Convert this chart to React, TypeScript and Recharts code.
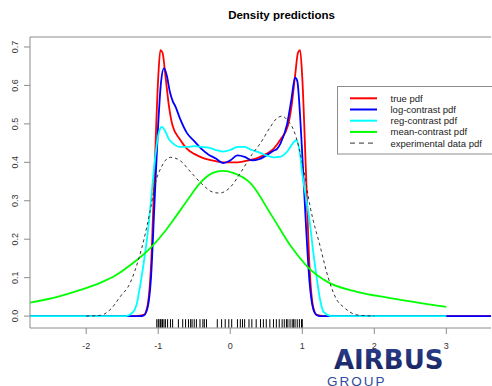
import { ComposedChart, Line, XAxis, YAxis, ReferenceLine } from "recharts";

// x positions / densities
const trueX = [-2.78, -1.3, -1.2, -1.15, -1.1, -1.05, -1.0, -0.97, -0.94, -0.9, -0.85, -0.8, -0.7, -0.6, -0.5, -0.4, -0.3, -0.2, -0.1, 0, 0.1, 0.2, 0.3, 0.4, 0.5, 0.6, 0.7, 0.8, 0.85, 0.9, 0.94, 0.97, 1.0, 1.05, 1.1, 1.15, 1.2, 1.3, 3.62];
const trueY = [0, 0, 0.003, 0.025, 0.13, 0.38, 0.62, 0.692, 0.685, 0.625, 0.545, 0.495, 0.46, 0.435, 0.422, 0.413, 0.407, 0.403, 0.4, 0.4, 0.4, 0.403, 0.407, 0.413, 0.422, 0.435, 0.46, 0.495, 0.545, 0.625, 0.685, 0.692, 0.62, 0.38, 0.13, 0.025, 0.003, 0, 0];

const logX = [-2.78, -1.25, -1.2, -1.15, -1.1, -1.05, -1.0, -0.96, -0.92, -0.88, -0.84, -0.8, -0.76, -0.7, -0.6, -0.5, -0.4, -0.3, -0.2, -0.1, 0, 0.1, 0.2, 0.3, 0.4, 0.5, 0.6, 0.65, 0.7, 0.79, 0.85, 0.9, 0.93, 0.97, 1.0, 1.05, 1.1, 1.15, 1.2, 1.25, 3.62];
const logY = [0, 0, 0.002, 0.02, 0.1, 0.3, 0.5, 0.61, 0.645, 0.625, 0.585, 0.56, 0.545, 0.515, 0.476, 0.455, 0.435, 0.42, 0.41, 0.398, 0.405, 0.418, 0.414, 0.405, 0.408, 0.418, 0.43, 0.435, 0.45, 0.5, 0.565, 0.62, 0.612, 0.52, 0.42, 0.24, 0.09, 0.02, 0.003, 0, 0];

const regX = [-2.78, -1.45, -1.35, -1.3, -1.25, -1.2, -1.15, -1.1, -1.05, -1.0, -0.95, -0.9, -0.85, -0.8, -0.7, -0.6, -0.5, -0.4, -0.3, -0.2, -0.1, 0, 0.1, 0.2, 0.3, 0.4, 0.5, 0.6, 0.7, 0.8, 0.87, 0.92, 0.97, 1.0, 1.05, 1.1, 1.15, 1.2, 1.25, 1.3, 1.4, 3.0];
const regY = [0, 0, 0.01, 0.03, 0.08, 0.14, 0.21, 0.3, 0.4, 0.47, 0.492, 0.48, 0.46, 0.45, 0.44, 0.44, 0.442, 0.44, 0.438, 0.432, 0.428, 0.432, 0.44, 0.44, 0.432, 0.426, 0.418, 0.413, 0.415, 0.43, 0.45, 0.458, 0.42, 0.37, 0.31, 0.25, 0.17, 0.1, 0.04, 0.01, 0, 0];

const meanX = [-2.78, -2.4, -2.08, -1.8, -1.6, -1.35, -1.11, -0.9, -0.79, -0.6, -0.42, -0.25, -0.1, 0.05, 0.28, 0.58, 0.86, 1.08, 1.35, 1.76, 2.22, 3.0];
const meanY = [0.035, 0.05, 0.068, 0.087, 0.105, 0.138, 0.177, 0.222, 0.25, 0.3, 0.346, 0.372, 0.378, 0.372, 0.346, 0.26, 0.177, 0.127, 0.089, 0.063, 0.047, 0.024];

const expX = [-2.0, -1.8, -1.65, -1.53, -1.39, -1.32, -1.2, -1.11, -1.04, -0.95, -0.83, -0.7, -0.55, -0.4, -0.25, -0.15, 0, 0.14, 0.3, 0.42, 0.55, 0.65, 0.72, 0.8, 0.88, 1.02, 1.11, 1.25, 1.36, 1.48, 1.57, 1.76, 2.0];
const expY = [0, 0.002, 0.02, 0.05, 0.086, 0.12, 0.198, 0.276, 0.345, 0.39, 0.413, 0.405, 0.375, 0.345, 0.323, 0.32, 0.335, 0.372, 0.42, 0.45, 0.49, 0.515, 0.52, 0.508, 0.484, 0.38, 0.284, 0.18, 0.1, 0.042, 0.024, 0.003, 0];

// observed sample (rug)
const rugX = [-1.02, -1.0, -0.99, -0.97, -0.96, -0.94, -0.92, -0.9, -0.87, -0.83, -0.8, -0.72, -0.66, -0.62, -0.58, -0.55, -0.53, -0.5, -0.47, -0.42, -0.38, -0.36, -0.33, -0.18, -0.12, -0.07, -0.02, 0.02, 0.1, 0.14, 0.17, 0.2, 0.26, 0.3, 0.36, 0.42, 0.46, 0.5, 0.55, 0.6, 0.64, 0.68, 0.72, 0.75, 0.78, 0.8, 0.83, 0.86, 0.88, 0.9, 0.93, 0.96, 0.99, 1.0];

const xTicks = [-2, -1, 0, 1, 2, 3];
const yTicks = [0, 0.1, 0.2, 0.3, 0.4, 0.5, 0.6, 0.7];

const seriesNames = ["true pdf", "log-contrast pdf", "reg-contrast pdf", "mean-contrast pdf", "experimental data pdf"];
const seriesColors = ["#ff0000", "#0000ff", "#00ffff", "#00ff00", "#333333"];

const toPts = (xs: number[], ys: number[]) => xs.map((x, i) => ({ x, y: ys[i] }));

const FONT = "'Liberation Sans', Arial, Helvetica, sans-serif";
const AXIS = "#8c8c8c";

const YTick = (p: any) => (
  <text
    x={p.x}
    y={p.y}
    transform={`rotate(-90 ${p.x} ${p.y})`}
    textAnchor="middle"
    fontSize={9}
    fontFamily={FONT}
    fill="#333"
  >
    {p.payload.value.toFixed(1)}
  </text>
);

export default function App() {
  const series = [
    toPts(trueX, trueY),
    toPts(logX, logY),
    toPts(regX, regY),
    toPts(meanX, meanY),
    toPts(expX, expY),
  ];

  return (
    <div style={{ position: "fixed", left: 0, top: 0, width: 492, height: 386, background: "#fff", fontFamily: FONT }}>
      <ComposedChart width={492} height={386} margin={{ top: 37, right: 1, bottom: 0, left: 0 }}>
        <XAxis
          type="number"
          dataKey="x"
          domain={[-2.78, 3.62]}
          ticks={xTicks}
          allowDataOverflow
          height={58}
          tickSize={6}
          tickMargin={9}
          stroke={AXIS}
          tick={{ fontSize: 9, fill: "#333", fontFamily: FONT }}
        />
        <YAxis
          type="number"
          dataKey="y"
          domain={[-0.031, 0.726]}
          ticks={yTicks}
          allowDataOverflow
          width={30}
          tickSize={6}
          tickMargin={6}
          stroke={AXIS}
          tick={YTick}
        />
        <ReferenceLine y={0.726} stroke={AXIS} strokeWidth={1} />
        {rugX.map((v, i) => (
          <ReferenceLine
            key={"r" + i}
            segment={[{ x: v, y: -0.0305 }, { x: v, y: -0.008 }]}
            stroke="#000"
            strokeWidth={1}
          />
        ))}
        {series.map((d, i) => (
          <Line
            key={seriesNames[i]}
            data={d}
            dataKey="y"
            name={seriesNames[i]}
            type="monotone"
            stroke={seriesColors[i]}
            strokeWidth={i === 4 ? 1 : 1.8}
            strokeDasharray={i === 4 ? "3 3" : undefined}
            dot={false}
            activeDot={false}
            isAnimationActive={false}
          />
        ))}
      </ComposedChart>

      <svg width={492} height={386} style={{ position: "absolute", left: 0, top: 0, pointerEvents: "none" }}>
        <text x={281.5} y={19} textAnchor="middle" fontSize={11.5} fontWeight="bold" fontFamily={FONT} fill="#000">
          Density predictions
        </text>
        <rect x={337.5} y={86.5} width={170} height={67.5} fill="#fff" stroke={AXIS} strokeWidth={1} />
        {seriesNames.map((n, i) => {
          const cy = 98.3 + i * 11.2;
          return (
            <g key={n}>
              <line
                x1={350}
                x2={377}
                y1={cy}
                y2={cy}
                stroke={seriesColors[i]}
                strokeWidth={i === 4 ? 1 : 2}
                strokeDasharray={i === 4 ? "5 4" : undefined}
              />
              <text x={390.5} y={cy + 3.4} fontSize={9.5} fontFamily={FONT} fill="#222">
                {n}
              </text>
            </g>
          );
        })}
        <defs>
          <linearGradient id="logoGrad" x1="0" y1="0" x2="0" y2="1">
            <stop offset="0%" stopColor="#2c3f8f" />
            <stop offset="100%" stopColor="#15205a" />
          </linearGradient>
        </defs>
        <text x={334} y={369} fontSize={26} fontWeight="bold" fontFamily="'DejaVu Sans', sans-serif" fill="url(#logoGrad)">
          AIRBUS
        </text>
        <text x={327} y={385.5} fontSize={13.5} letterSpacing={2} fontFamily={FONT} fill="#2e4a9c">
          GROUP
        </text>
      </svg>
    </div>
  );
}
